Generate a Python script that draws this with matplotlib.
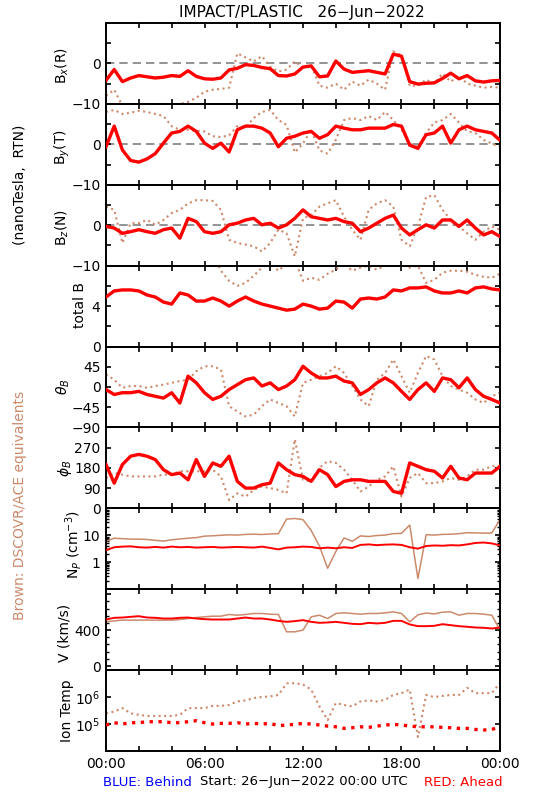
# grafica_impact.py
# Resumen diario IMPACT/PLASTIC (STEREO Ahead) con equivalentes DSCOVR/ACE

import numpy as np
import matplotlib
matplotlib.use("Agg")
import matplotlib.pyplot as plt
import matplotlib.ticker as ticker


# ─── Datos (leídos cada 30 min) ───────────────────────────────────────────────

hora = np.arange(0, 24.5, 0.5)

bx_ahead = [-4.2, -1.5, -4.5, -3.6, -3.0, -3.3, -3.6, -3.4, -3.0, -3.2,
            -1.8, -3.2, -3.8, -3.9, -3.6, -1.6, -1.2, -0.3, -0.5, -1.0,
            -1.3, -3.0, -3.1, -2.6, -0.9, -0.6, -3.3, -3.1, 0.6, -1.4,
            -2.2, -2.0, -1.8, -2.2, -2.6, 2.3, 1.8, -4.5, -5.1, -4.9,
            -4.8, -3.7, -2.4, -3.8, -3.0, -4.3, -4.6, -4.3, -4.2]
bx_ace = [-8.0, -6.5, -10.5, -11.0, -10.6, -10.3, -10.2, -10.0, -10.1, -10.0,
          -9.5, -8.5, -7.0, -6.5, -6.3, -6.0, 2.5, 1.5, 0.5, 1.8,
          -0.8, -2.0, -1.5, 0.5, -1.0, -0.5, -5.5, -6.0, -5.0, -6.5,
          -4.5, -5.5, -4.0, -5.0, -6.5, 3.0, 2.0, -5.5, -5.5, -4.0,
          -5.0, -2.5, -4.5, -3.0, -5.0, -5.5, -6.0, -5.8, -6.0]

by_ahead = [-0.6, 4.5, -1.4, -4.0, -4.4, -3.6, -2.3, 0.3, 2.8, 3.2,
            4.5, 3.2, 0.3, -1.0, 0.3, -1.9, 3.6, 4.5, 4.5, 4.0,
            2.8, -0.6, 1.5, 2.0, 2.8, 3.2, 1.5, 2.4, 4.5, 4.0,
            3.6, 3.6, 4.0, 4.0, 4.0, 4.9, 4.5, -0.2, -1.0, 2.4,
            2.8, 4.5, 0.3, 3.6, 4.5, 3.6, 3.2, 2.8, 1.0]
by_ace = [8.0, 8.5, 7.5, 7.8, 8.3, 8.0, 7.5, 7.0, 4.5, 3.6,
          3.6, 3.3, 3.2, 2.0, 1.8, 2.2, 4.5, 4.2, 6.5, 8.0,
          8.5, 6.0, 4.8, -2.0, 0.2, 3.6, -1.5, -2.3, 1.1, 6.0,
          6.5, 6.0, 7.0, 6.0, 8.0, 6.0, 3.6, 0.2, -0.6, 2.8,
          5.4, 6.0, 7.5, 5.4, 3.2, 2.8, 1.1, 0.2, -0.6]

bz_ahead = [-0.3, -0.7, -2.0, -1.6, -1.1, -1.6, -2.0, -1.1, -0.7, -3.2,
            1.7, 0.9, -1.6, -2.0, -1.6, 0.1, 0.5, 1.3, 1.7, 0.1,
            0.5, -0.7, 0.1, 1.7, 3.8, 2.1, 1.7, 1.3, 1.7, 0.9,
            0.5, -1.6, -0.7, 0.5, 1.7, 2.5, -0.7, -2.4, -1.1, 0.1,
            -0.7, 1.3, 1.3, -0.3, 1.3, -0.7, -2.4, -1.6, -2.8]
bz_ace = [4.6, 3.8, -4.4, 0.5, 0.5, 1.3, 0.1, 1.3, 3.0, 3.8,
          5.4, 6.2, 6.2, 6.0, 3.8, -3.6, -4.4, -4.8, -5.2, -6.5,
          -4.4, -1.1, -2.0, -7.7, 1.7, 2.5, 4.6, 5.4, 6.2, 2.1,
          -1.1, -3.6, 3.8, 5.4, 6.2, 4.6, -3.6, -5.2, -0.3, 7.0,
          7.4, 3.8, 1.3, -0.3, -2.0, -3.6, -1.6, -0.3, -1.1]

bt_ahead = [4.9, 5.5, 5.6, 5.6, 5.5, 5.1, 4.9, 4.4, 4.2, 5.3,
            5.1, 4.5, 4.5, 4.8, 4.5, 4.0, 4.5, 4.9, 4.5, 4.2,
            4.0, 3.8, 3.6, 3.7, 4.2, 4.0, 3.7, 3.8, 4.5, 4.4,
            3.8, 4.7, 4.8, 4.7, 4.9, 5.6, 5.5, 5.8, 5.8, 5.9,
            5.5, 5.3, 5.3, 5.5, 5.3, 5.8, 5.9, 5.7, 5.6]
bt_ace = [11.0, 11.5, 12.0, 12.5, 13.0, 13.0, 12.5, 12.0, 12.0, 11.5,
          11.0, 10.5, 10.0, 9.0, 7.5, 6.5, 6.0, 6.3, 7.0, 7.8,
          8.3, 7.5, 8.2, 8.6, 6.5, 6.8, 6.6, 7.2, 7.6, 8.2,
          7.5, 7.8, 8.0, 7.6, 8.0, 8.3, 8.5, 7.8, 8.0, 6.3,
          6.6, 7.3, 7.5, 7.5, 7.4, 7.1, 6.9, 6.8, 7.2]

theta_ahead = [-6, -17, -13, -13, -10, -17, -21, -25, -13, -36,
               24, 9, -13, -28, -21, -6, 5, 16, 20, 2,
               9, -6, 2, 16, 46, 31, 20, 20, 24, 13,
               9, -17, -6, 9, 20, 9, -10, -28, -6, 9,
               -10, 20, 16, -2, 20, -6, -21, -28, -36]
theta_ace = [28, 16, -2, 2, 2, -2, 2, 5, 9, 13,
             16, 35, 46, 46, 39, -43, -55, -66, -62, -43,
             -28, -36, -43, -66, 9, 16, 24, 31, 46, 31,
             2, -28, -43, 16, 31, 61, 24, -13, 31, 69,
             61, 24, 2, -6, -13, -28, -36, -21, -13]

phi_ahead = [195, 112, 195, 232, 240, 232, 217, 172, 150, 157,
             127, 217, 142, 202, 187, 232, 120, 90, 90, 105,
             112, 202, 172, 150, 142, 120, 172, 150, 97, 120,
             127, 127, 120, 120, 120, 75, 67, 202, 187, 172,
             165, 135, 187, 135, 127, 157, 157, 157, 187]
phi_ace = [135, 157, 150, 142, 142, 142, 142, 150, 150, 165,
           165, 165, 165, 172, 142, 37, 67, 52, 82, 97,
           90, 82, 67, 307, 127, 120, 180, 210, 202, 172,
           127, 75, 97, 127, 142, 187, 52, 135, 157, 112,
           112, 120, 135, 127, 142, 172, 172, 187, 187]

np_ahead = [2.8, 3.6, 3.8, 3.9, 3.6, 3.5, 3.7, 3.5, 3.8, 3.6,
            3.7, 3.5, 3.6, 3.7, 3.5, 3.6, 3.7, 3.6, 3.5, 3.8,
            3.4, 3.0, 3.5, 3.6, 3.8, 3.7, 3.3, 3.5, 3.3, 3.6,
            3.4, 4.4, 4.6, 4.3, 4.5, 4.6, 4.4, 3.6, 3.2, 4.0,
            4.2, 4.1, 4.3, 4.2, 4.6, 5.2, 5.4, 5.0, 4.2]
np_ace = [6.0, 7.8, 7.5, 7.2, 7.2, 7.0, 6.5, 6.1, 6.8, 7.3,
          7.8, 8.2, 9.3, 9.6, 10.0, 10.4, 10.2, 10.8, 11.0, 10.7,
          11.2, 11.5, 40.0, 42.0, 38.0, 15.0, 4.0, 0.6, 2.5, 8.0,
          6.0, 9.5, 9.0, 9.8, 10.2, 11.5, 11.8, 24.0, 0.25, 10.5,
          10.2, 10.8, 11.0, 11.5, 12.5, 12.3, 12.0, 12.2, 38.0]

v_ahead = [518, 537, 540, 548, 555, 540, 537, 529, 529, 537,
           540, 529, 522, 518, 518, 518, 529, 540, 529, 529,
           518, 503, 492, 500, 511, 492, 481, 485, 492, 481,
           470, 466, 481, 474, 481, 503, 503, 463, 444, 444,
           448, 466, 455, 444, 437, 429, 426, 418, 429]
v_ace = [492, 503, 511, 511, 511, 511, 511, 511, 511, 518,
         529, 540, 548, 555, 555, 574, 566, 574, 585, 585,
         577, 574, 381, 381, 400, 548, 566, 529, 585, 592,
         585, 577, 585, 585, 592, 603, 585, 492, 570, 590,
         580, 600, 603, 566, 585, 585, 577, 566, 400]

# temperaturas en unidades de 1e5 K
temp_ahead = [0.92, 1.12, 1.0, 1.12, 1.12, 1.22, 1.22, 1.22, 1.12, 1.12,
              1.22, 1.33, 1.12, 1.0, 1.06, 1.06, 1.12, 1.0, 1.06, 1.0,
              1.06, 0.87, 0.92, 0.97, 1.06, 1.0, 0.92, 0.84, 0.79, 0.69,
              0.73, 0.79, 0.75, 0.84, 0.92, 0.97, 0.92, 0.84, 0.79, 0.79,
              0.79, 0.75, 0.73, 0.69, 0.69, 0.63, 0.6, 0.63, 0.79]
temp_ace = [2.5, 2.9, 3.9, 2.5, 2.2, 2.0, 2.0, 2.0, 2.0, 2.2,
            3.9, 3.9, 3.9, 4.7, 4.7, 5.1, 6.9, 7.5, 9.2, 10.0,
            10.6, 12.0, 32.0, 33.0, 29.0, 19.0, 4.5, 1.4, 6.0, 5.1,
            4.5, 6.9, 7.5, 6.9, 7.9, 12.0, 14.0, 19.0, 0.33, 12.0,
            10.0, 11.0, 12.0, 12.0, 22.0, 14.0, 14.0, 14.0, 34.0]

etiquetas_hora = ["00:00", "06:00", "12:00", "18:00", "00:00"]

ROJO = "#ff0000"
CAFE = "#cc8a6c"
GRIS = "#808080"
MENOS = "\u2212"

# ─── Figura ───────────────────────────────────────────────────────────────────

plt.rcParams["font.family"] = "DejaVu Sans"
fig = plt.figure(figsize=(5.5, 8), dpi=100)

IZQ, DER, ARRIBA, ABAJO = 106, 500, 23, 751
alto = (ABAJO - ARRIBA) / 9


def texto(x, y, s, tam=10, **kw):
    # coloca texto en coordenadas de pixel (origen arriba a la izquierda)
    fig.text(x / 550, 1 - y / 800, s, ha="center", va="center", fontsize=tam, **kw)


ejes = []
for i in range(9):
    tope = ARRIBA + i * alto
    ax = fig.add_axes([IZQ / 550, 1 - (tope + alto) / 800, (DER - IZQ) / 550, alto / 800])
    ax.patch.set_visible(False)
    ax.set_xlim(0, 24)
    ax.xaxis.set_major_locator(ticker.FixedLocator([0, 6, 12, 18, 24]))
    ax.xaxis.set_minor_locator(ticker.MultipleLocator(2))
    ax.tick_params(which="both", direction="in", top=True, right=True,
                   length=3.6, width=1.2, labelsize=10, pad=4)
    ax.tick_params(labelbottom=(i == 8))
    for lado in ax.spines.values():
        lado.set_linewidth(1.4)
    ejes.append(ax)

ax_bx, ax_by, ax_bz, ax_bt, ax_th, ax_ph, ax_np, ax_v, ax_t = ejes

# Componentes del campo magnético
for ax, rojo, cafe in [(ax_bx, bx_ahead, bx_ace),
                       (ax_by, by_ahead, by_ace),
                       (ax_bz, bz_ahead, bz_ace)]:
    ax.axhline(0, color=GRIS, lw=1.2, ls=(0, (5, 3)), zorder=1)
    ax.plot(hora, cafe, color=CAFE, lw=1.5, ls=":", zorder=2)
    ax.plot(hora, rojo, color=ROJO, lw=2.4, zorder=3)
    ax.set_ylim(-10, 10)
    ax.yaxis.set_major_locator(ticker.FixedLocator([-10, 0]))
    ax.yaxis.set_major_formatter(ticker.FixedFormatter([MENOS + "10", "0"]))
    ax.yaxis.set_minor_locator(ticker.FixedLocator([-5, 5]))

# Campo total
ax_bt.plot(hora, bt_ace, color=CAFE, lw=1.5, ls=":", zorder=2)
ax_bt.plot(hora, bt_ahead, color=ROJO, lw=2.4, zorder=3)
ax_bt.set_ylim(0, 8)
ax_bt.yaxis.set_major_locator(ticker.FixedLocator([0, 4]))
ax_bt.yaxis.set_minor_locator(ticker.FixedLocator([2, 6]))

# Ángulos
ax_th.plot(hora, theta_ace, color=CAFE, lw=1.5, ls=":", zorder=2)
ax_th.plot(hora, theta_ahead, color=ROJO, lw=2.4, zorder=3)
ax_th.set_ylim(-90.5, 90)
ax_th.yaxis.set_major_locator(ticker.FixedLocator([-90, -45, 0, 45]))
ax_th.yaxis.set_major_formatter(ticker.FixedFormatter(
    [MENOS + "90", MENOS + "45", "0", "45"]))
ax_th.yaxis.set_minor_locator(ticker.NullLocator())

ax_ph.plot(hora, phi_ace, color=CAFE, lw=1.5, ls=":", zorder=2)
ax_ph.plot(hora, phi_ahead, color=ROJO, lw=2.4, zorder=3)
ax_ph.set_ylim(0, 360)
ax_ph.yaxis.set_major_locator(ticker.FixedLocator([0, 90, 180, 270]))
ax_ph.yaxis.set_minor_locator(ticker.NullLocator())

# Densidad
ax_np.plot(hora, np_ace, color=CAFE, lw=1.1, zorder=2)
ax_np.plot(hora, np_ahead, color=ROJO, lw=1.4, zorder=3)
ax_np.set_yscale("log")
ax_np.set_ylim(0.1, 100)
ax_np.yaxis.set_major_locator(ticker.FixedLocator([0.1, 1, 10, 100]))
ax_np.yaxis.set_major_formatter(ticker.FixedFormatter(["", "1", "10", ""]))
ax_np.yaxis.set_minor_locator(ticker.LogLocator(subs=range(2, 10)))
ax_np.yaxis.set_minor_formatter(ticker.NullFormatter())
ax_np.tick_params(axis="y", which="minor", length=2.2, width=1)

# Velocidad
ax_v.plot(hora, v_ace, color=CAFE, lw=1.1, zorder=2)
ax_v.plot(hora, v_ahead, color=ROJO, lw=1.4, zorder=3)
ax_v.set_ylim(-45, 855)
ax_v.yaxis.set_major_locator(ticker.FixedLocator([0, 400, 800]))
ax_v.yaxis.set_major_formatter(ticker.FixedFormatter(["0", "400", ""]))
ax_v.yaxis.set_minor_locator(ticker.MultipleLocator(80))
ax_v.tick_params(axis="y", which="minor", length=2.5, width=1)

# Temperatura
ax_t.plot(hora, np.array(temp_ace) * 1e5, color=CAFE, lw=1.5, ls=":", zorder=2)
ax_t.plot(hora, np.array(temp_ahead) * 1e5, color=ROJO, lw=2.4, ls=":", zorder=3)
ax_t.set_yscale("log")
ax_t.set_ylim(1e4, 1e7)
ax_t.yaxis.set_major_locator(ticker.FixedLocator([1e4, 1e5, 1e6, 1e7]))
ax_t.yaxis.set_major_formatter(ticker.FixedFormatter(["", r"$10^5$", r"$10^6$", ""]))
ax_t.yaxis.set_minor_locator(ticker.NullLocator())
ax_t.xaxis.set_major_formatter(ticker.FixedFormatter(etiquetas_hora))

# ─── Textos ───────────────────────────────────────────────────────────────────

texto(302, 12, "IMPACT/PLASTIC   26" + MENOS + "Jun" + MENOS + "2022", tam=11)

texto(62, 65, r"B$_x$(R)", rotation=90)
texto(62, 147, r"B$_y$(T)", rotation=90)
texto(62, 227, r"B$_z$(N)", rotation=90)
texto(80, 305, "total B", rotation=90)
texto(63, 387, r"$\theta_B$", rotation=90)
texto(65, 468, r"$\phi_B$", rotation=90)
texto(73, 545, r"N$_P$ (cm$^{-3}$)", rotation=90)
texto(64, 633, "V (km/s)", rotation=90)
texto(67, 711, "Ion Temp", rotation=90)

texto(20, 185, "(nanoTesla,  RTN)", rotation=90)
texto(20, 505, "Brown: DSCOVR/ACE equivalents", rotation=90, color=CAFE)

texto(147, 782, "BLUE: Behind", tam=9.5, color="#0000ff")
texto(304, 782, "Start: 26" + MENOS + "Jun" + MENOS + "2022 00:00 UTC", tam=9.5)
texto(463, 782, "RED: Ahead", tam=9.5, color=ROJO)

fig.savefig("out.png", dpi=100)
